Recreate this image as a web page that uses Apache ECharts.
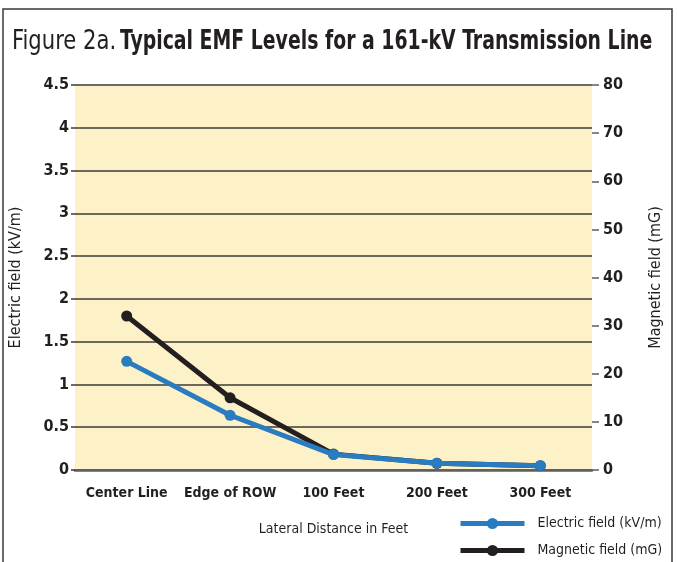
<!DOCTYPE html>
<html>
<head>
<meta charset="utf-8">
<script src="https://cdn.jsdelivr.net/npm/echarts@6/dist/echarts.min.js"></script>
<style>
  html, body { margin: 0; padding: 0; background: #fff; }
  #chart { width: 677px; height: 562px; }
</style>
</head>
<body>
<div id="chart"></div>
<script>
// data
const categories = ["Center Line", "Edge of ROW", "100 Feet", "200 Feet", "300 Feet"];
const electricField = [1.27, 0.64, 0.18, 0.08, 0.05]; // kV/m, left axis
const magneticField = [32, 15, 3.3, 1.4, 0.9]; // mG, right axis

const FONT = "'DejaVu Sans Condensed', 'Liberation Sans Narrow', sans-serif";
const INK = "#231f20";

const chart = echarts.init(document.getElementById("chart"));

chart.setOption({
  backgroundColor: "#fff",
  animation: false,
  textStyle: { fontFamily: FONT, color: INK },
  graphic: [
    // outer frame of the figure
    {
      type: "rect",
      shape: { x: 3, y: 9, width: 669, height: 600 },
      style: { fill: "none", stroke: "#3a3a3a", lineWidth: 1.5 },
      silent: true,
    },
    // title, squeezed to the narrow face of the original
    {
      type: "text",
      x: 12,
      y: 28,
      scaleX: 0.87,
      style: {
        text: "Figure 2a.",
        font: "normal 27px " + FONT,
        fill: INK,
      },
    },
    {
      type: "text",
      x: 120,
      y: 28,
      scaleX: 0.777,
      style: {
        text: "Typical EMF Levels for a 161-kV Transmission Line",
        font: "bold 27px " + FONT,
        fill: INK,
      },
    },
  ],
  grid: {
    left: 73,
    right: 85,
    top: 85,
    bottom: 92,
    show: true,
    backgroundColor: "#fdf1c7",
    borderWidth: 0,
  },
  legend: {
    orient: "vertical",
    left: 458,
    top: 514,
    padding: 0,
    itemWidth: 64,
    itemHeight: 14,
    itemGap: 8,
    lineStyle: { width: 5 },
    data: ["Electric field (kV/m)", "Magnetic field (mG)"],
    textStyle: { fontFamily: FONT, fontSize: 14, lineHeight: 19, color: INK, padding: [0, 0, 0, 8] },
  },
  xAxis: {
    type: "category",
    data: categories,
    boundaryGap: true,
    name: "Lateral Distance in Feet",
    nameLocation: "middle",
    nameGap: 52,
    nameTextStyle: { fontFamily: FONT, fontSize: 14, color: INK },
    axisLine: { lineStyle: { color: "#5f5f5f", width: 2.5 } },
    axisTick: { show: false },
    axisLabel: {
      interval: 0,
      margin: 16,
      fontFamily: FONT,
      fontSize: 14,
      fontWeight: "bold",
      color: INK,
    },
  },
  yAxis: [
    {
      type: "value",
      min: 0,
      max: 4.5,
      interval: 0.5,
      name: "Electric field (kV/m)",
      nameLocation: "middle",
      nameRotate: 90,
      nameGap: 51,
      nameTextStyle: { fontFamily: FONT, fontSize: 16, color: INK },
      axisLine: { show: false },
      axisTick: { show: true, length: 4, lineStyle: { color: "#3a3a3a", width: 1.5 } },
      splitLine: { lineStyle: { color: "#3a3a3a", width: 1.5 } },
      axisLabel: {
        margin: 6,
        fontFamily: FONT,
        fontSize: 16,
        fontWeight: "bold",
        color: INK,
        padding: [0, 0, 10, 0],
      },
    },
    {
      type: "value",
      min: 0,
      max: 80,
      interval: 10,
      position: "right",
      name: "Magnetic field (mG)",
      nameLocation: "middle",
      nameRotate: 90,
      nameGap: 56,
      nameTextStyle: { fontFamily: FONT, fontSize: 16, color: INK },
      axisLine: { show: false },
      axisTick: { show: true, inside: false, length: 7, lineStyle: { color: "#5f5f5f", width: 1.5 } },
      splitLine: { show: false },
      axisLabel: {
        margin: 11,
        fontFamily: FONT,
        fontSize: 16,
        fontWeight: "bold",
        color: INK,
        padding: [0, 0, 10, 0],
      },
    },
  ],
  series: [
    {
      name: "Magnetic field (mG)",
      type: "line",
      yAxisIndex: 1,
      data: magneticField,
      symbol: "circle",
      symbolSize: 11,
      lineStyle: { color: INK, width: 5 },
      itemStyle: { color: INK },
      z: 2,
    },
    {
      name: "Electric field (kV/m)",
      type: "line",
      yAxisIndex: 0,
      data: electricField,
      symbol: "circle",
      symbolSize: 11,
      lineStyle: { color: "#2a7cc1", width: 5 },
      itemStyle: { color: "#2a7cc1" },
      z: 3,
    },
  ],
});
</script>
</body>
</html>
